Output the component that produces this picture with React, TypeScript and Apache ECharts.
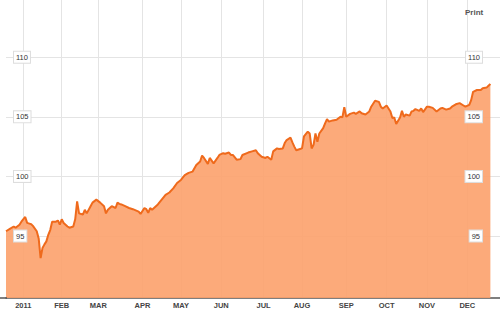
import React, { useEffect, useRef } from "react";
import * as echarts from "echarts";

// trading-day index (0 = first trading day of 2011) and index level
const tradingDay = [
  -9, -7, -5, -4, -2, -1, 1, 2, 4, 5,
  7, 8, 9, 10, 11, 12, 13, 14, 15, 17,
  18, 19, 20, 21, 23, 24, 26, 27, 28, 29,
  31, 32, 33, 35, 36, 38, 40, 42, 43, 44,
  46, 48, 49, 50, 51, 53, 55, 57, 60, 61,
  63, 64, 65, 66, 67, 69, 70, 72, 74, 76,
  78, 80, 82, 84, 86, 88, 90, 92, 93, 94,
  96, 97, 99, 101, 102, 104, 105, 107, 108, 109,
  111, 113, 114, 117, 119, 121, 122, 124, 126, 127,
  129, 130, 132, 133, 135, 136, 137, 139, 140, 141,
  142, 144, 145, 146, 148, 149, 150, 151, 152, 153,
  154, 156, 157, 158, 159, 161, 163, 165, 166, 167,
  168, 170, 172, 173, 175, 176, 178, 180, 181, 183,
  185, 186, 187, 189, 191, 192, 193, 194, 196, 197,
  198, 199, 201, 202, 203, 204, 206, 207, 208, 210,
  211, 213, 215, 217, 218, 220, 222, 223, 225, 227,
  229, 230, 232, 233, 234, 236, 238, 239, 241, 242,
  243,
];

const price = [
  95.4, 95.6, 95.8, 95.7, 95.95, 96.2, 96.6, 96.1, 96.0, 95.85,
  95.4, 94.8, 93.15, 94.0, 94.3, 94.55, 95.1, 95.5, 96.2, 96.2,
  96.3, 95.95, 96.4, 96.1, 95.8, 95.7, 95.8, 96.4, 97.9, 96.9,
  96.8, 97.2, 96.9, 97.5, 97.8, 98.05, 97.8, 97.5, 96.9, 97.2,
  97.5, 97.35, 97.8, 97.7, 97.65, 97.5, 97.35, 97.25, 97.05, 96.85,
  97.35, 97.25, 96.95, 97.35, 97.2, 97.5, 97.65, 98.05, 98.45, 98.65,
  99.0, 99.45, 99.7, 100.1, 100.3, 100.4, 100.95, 101.25, 101.75, 101.55,
  101.05, 101.55, 101.1, 101.55, 101.8, 101.95, 101.9, 102.0, 101.8, 101.8,
  101.4, 101.45, 101.8, 102.0, 102.1, 102.2, 101.95, 101.65, 101.55, 101.65,
  101.4, 102.1, 102.35, 102.3, 102.35, 102.8, 103.05, 103.25, 102.85, 102.5,
  102.2, 102.3, 102.35, 103.35, 103.75, 103.6, 102.35, 102.65, 103.6, 102.9,
  103.6, 104.05, 104.45, 104.8, 104.6, 104.7, 104.75, 105.0, 104.95, 105.8,
  105.0, 105.25, 105.35, 105.25, 105.45, 105.3, 105.2, 105.45, 105.85, 106.35,
  106.25, 105.85, 105.7, 105.95, 105.45, 104.9, 104.95, 104.4, 104.95, 105.5,
  105.0, 105.2, 105.1, 105.45, 105.5, 105.65, 105.5, 105.7, 105.4, 105.85,
  105.85, 105.75, 105.45, 105.7, 105.75, 105.6, 105.7, 105.85, 106.05, 106.15,
  105.95, 105.85, 106.0, 106.4, 107.1, 107.25, 107.25, 107.4, 107.45, 107.6,
  107.75,
];

// first trading day of each month and its label
const monthStarts = [0, 20, 39, 62, 82, 103, 125, 145, 168, 189, 210, 231];
const monthLabels = ["2011", "FEB", "MAR", "APR", "MAY", "JUN", "JUL", "AUG", "SEP", "OCT", "NOV", "DEC"];

// y tick labels
const yTicks = [95, 100, 105, 110];

export default function App() {
  const ref = useRef<HTMLDivElement>(null);

  useEffect(() => {
    document.body.style.margin = "0";
    if (!ref.current) return;
    const chart = echarts.init(ref.current, undefined, { renderer: "svg" });
    const data = tradingDay.map((t, i) => [t, price[i]]);
    const labelFont = { fontFamily: "Liberation Sans, Arial, sans-serif" };
    const yLabel = {
      inside: true,
      customValues: yTicks,
      color: "#333",
      fontSize: 7.5,
      ...labelFont,
      backgroundColor: "#fff",
      borderColor: "#ddd",
      borderWidth: 1,
      padding: [2, 2, 1, 2],
    };
    const yRange = { type: "value", min: 89.8, max: 114.8 };
    chart.setOption({
      animation: false,
      grid: { left: 6, right: 0, top: 0, bottom: 15 },
      xAxis: {
        type: "value",
        min: -9,
        max: 248,
        axisLine: { show: true, lineStyle: { color: "#555", width: 1.5 } },
        axisTick: { show: false, customValues: monthStarts },
        splitLine: { show: true, lineStyle: { color: "#e4e4e4", width: 1 } },
        axisLabel: {
          customValues: monthStarts,
          formatter: (v: number) => {
            const i = monthStarts.indexOf(Math.round(v));
            return i >= 0 ? monthLabels[i] : "";
          },
          color: "#444",
          fontWeight: "bold",
          fontSize: 7.5,
          margin: 3,
          ...labelFont,
        },
      },
      yAxis: [
        {
          ...yRange,
          position: "left",
          z: 0,
          axisLine: { show: false },
          axisTick: { show: false, customValues: yTicks },
          axisLabel: { show: false, customValues: yTicks },
          splitLine: { show: true, lineStyle: { color: "#e4e4e4", width: 1 } },
        },
        {
          ...yRange,
          position: "left",
          z: 10,
          axisLine: { show: false },
          axisTick: { show: false, customValues: yTicks },
          splitLine: { show: false },
          axisLabel: { ...yLabel, margin: 8 },
        },
        {
          ...yRange,
          position: "right",
          z: 10,
          axisLine: { show: false },
          axisTick: { show: false, customValues: yTicks },
          splitLine: { show: false },
          axisLabel: { ...yLabel, margin: 18 },
        },
      ],
      graphic: [
        {
          type: "text",
          left: 465,
          top: 8,
          z: 10,
          style: {
            text: "Print",
            fill: "#555",
            font: "bold 8px Liberation Sans, Arial, sans-serif",
          },
        },
        {
          type: "line",
          z: 10,
          shape: { x1: 0, y1: 298, x2: 7, y2: 298 },
          style: { stroke: "#555", lineWidth: 1.5 },
        },
      ],
      series: [
        {
          type: "line",
          data,
          showSymbol: false,
          symbol: "none",
          yAxisIndex: 0,
          lineStyle: { color: "#ef6a1c", width: 2 },
          areaStyle: { color: "#fca16b", opacity: 0.9, origin: "start" },
          z: 3,
        },
      ],
    });
    return () => chart.dispose();
  }, []);

  return <div ref={ref} style={{ width: 500, height: 313 }} />;
}
